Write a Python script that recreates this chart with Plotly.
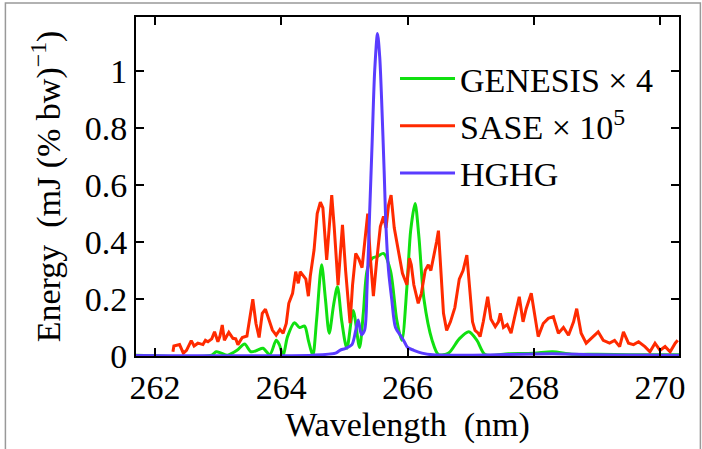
import plotly.graph_objects as go

# ---- data ----
sase_x = [262.285, 262.30, 262.39, 262.45, 262.50, 262.575, 262.62, 262.68, 262.76, 262.80,
          262.84, 262.90, 262.944, 262.997, 263.03, 263.066, 263.10, 263.17, 263.235, 263.28,
          263.314, 263.383, 263.457, 263.51, 263.55, 263.60, 263.65, 263.70, 263.75, 263.79,
          263.86, 263.92, 263.98, 264.03, 264.08, 264.12, 264.18, 264.23, 264.27, 264.30,
          264.35, 264.39, 264.43, 264.46, 264.52, 264.57, 264.62, 264.66, 264.72, 264.76,
          264.80, 264.84, 264.90, 264.97, 265.02, 265.09, 265.13, 265.18, 265.23, 265.28,
          265.33, 265.37, 265.41, 265.46, 265.51, 265.57, 265.62, 265.66, 265.70, 265.74,
          265.79, 265.86, 265.92, 265.99, 266.03, 266.06, 266.10, 266.17, 266.22, 266.28,
          266.33, 266.37, 266.41, 266.46, 266.49, 266.53, 266.57, 266.62, 266.68, 266.75,
          266.82, 266.88, 266.94, 266.98, 267.03, 267.07, 267.12, 267.15, 267.20, 267.27,
          267.32, 267.39, 267.44, 267.47, 267.52, 267.58, 267.64, 267.70, 267.77, 267.83,
          267.88, 267.96, 268.02, 268.07, 268.15, 268.23, 268.31, 268.39, 268.47, 268.55,
          268.63, 268.68, 268.75, 268.83, 268.91, 269.02, 269.10, 269.20, 269.28, 269.36,
          269.42, 269.50, 269.58, 269.66, 269.76, 269.84, 269.92, 270.00, 270.08, 270.16,
          270.24, 270.28]
sase_y = [0.015, 0.035, 0.04, 0.01, 0.02, 0.054, 0.035, 0.045, 0.04, 0.055,
          0.05, 0.06, 0.085, 0.05, 0.07, 0.109, 0.055, 0.083, 0.062, 0.06,
          0.04, 0.065, 0.07, 0.15, 0.199, 0.114, 0.065, 0.15, 0.164, 0.138,
          0.091, 0.073, 0.093, 0.08, 0.114, 0.185, 0.22, 0.296, 0.255, 0.296,
          0.28, 0.27, 0.21, 0.28, 0.372, 0.50, 0.54, 0.52, 0.337, 0.45,
          0.565, 0.45, 0.249, 0.46, 0.30, 0.115, 0.25, 0.36, 0.34, 0.31,
          0.42, 0.50, 0.35, 0.21, 0.33, 0.454, 0.49, 0.45, 0.53, 0.565,
          0.45, 0.36, 0.29, 0.25, 0.343, 0.32, 0.25, 0.185, 0.22, 0.30,
          0.32, 0.30, 0.34, 0.40, 0.44, 0.30, 0.15, 0.09, 0.12, 0.17,
          0.27, 0.30, 0.354, 0.25, 0.12, 0.09, 0.08, 0.068, 0.12, 0.208,
          0.13, 0.103, 0.12, 0.15, 0.10, 0.11, 0.08, 0.14, 0.208, 0.12,
          0.166, 0.22, 0.138, 0.068, 0.114, 0.132, 0.138, 0.08, 0.10, 0.073,
          0.12, 0.166, 0.08, 0.045, 0.062, 0.085, 0.055, 0.045, 0.055, 0.033,
          0.085, 0.045, 0.04, 0.05, 0.033, 0.015, 0.045, 0.02, 0.033, 0.015,
          0.045, 0.055]

genesis_x = [261.70, 262.90, 262.97, 263.05, 263.15, 263.30, 263.42, 263.52, 263.62, 263.71,
             263.82, 263.92, 263.97, 264.03, 264.10, 264.21, 264.29, 264.37, 264.43, 264.50,
             264.56, 264.64, 264.70, 264.76, 264.83, 264.89, 264.96, 265.04, 265.14, 265.24,
             265.30, 265.36, 265.44, 265.53, 265.62, 265.73, 265.83, 265.91, 265.99, 266.05,
             266.12, 266.18, 266.26, 266.39, 266.49, 266.65, 266.82, 266.97, 267.10, 267.23,
             267.60, 268.00, 268.30, 268.60, 269.00, 269.50, 270.30]
genesis_y = [0.003, 0.003, 0.015, 0.01, 0.003, 0.02, 0.042, 0.015, 0.02, 0.027,
             0.005, 0.055, 0.04, 0.002, 0.068, 0.117, 0.10, 0.105, 0.055, 0.002,
             0.126, 0.32, 0.20, 0.08, 0.18, 0.243, 0.12, 0.027, 0.16, 0.03,
             0.15, 0.30, 0.343, 0.35, 0.36, 0.30, 0.126, 0.055, 0.24, 0.44,
             0.535, 0.42, 0.20, 0.055, 0.005, 0.01, 0.06, 0.085, 0.055, 0.005,
             0.008, 0.01, 0.015, 0.006, 0.006, 0.004, 0.004]

hghg_x = [261.70, 264.50, 264.86, 264.93, 265.02, 265.12, 265.18, 265.22, 265.27, 265.32,
          265.36, 265.40, 265.44, 265.48, 265.525, 265.56, 265.59, 265.63, 265.66, 265.70,
          265.75, 265.81, 265.89, 265.95, 266.00, 266.10, 266.23, 266.40, 267.00, 268.30,
          269.00, 270.30]
hghg_y = [0.002, 0.003, 0.01, 0.02, 0.027, 0.04, 0.09, 0.126, 0.075, 0.09,
          0.243, 0.50, 0.75, 1.0, 1.132, 1.05, 0.90, 0.65, 0.45, 0.30,
          0.20, 0.10, 0.072, 0.05, 0.03, 0.02, 0.01, 0.004, 0.003, 0.008,
          0.004, 0.003]

x_ticks = [262, 264, 266, 268, 270]
y_ticks = [0, 0.2, 0.4, 0.6, 0.8, 1]
y_ticktext = ["0", "0.2", "0.4", "0.6", "0.8", "1"]

FONT = "Liberation Serif, Times New Roman, serif"
FS = 34

fig = go.Figure()
fig.add_trace(go.Scatter(x=genesis_x, y=genesis_y, mode="lines", name="GENESIS \u00d7 4",
                         line=dict(color="#10E010", width=3, shape="spline", smoothing=0.8)))
fig.add_trace(go.Scatter(x=sase_x, y=sase_y, mode="lines", name="SASE \u00d7 10<sup>5</sup>",
                         line=dict(color="#FF2A00", width=3)))
fig.add_trace(go.Scatter(x=hghg_x, y=hghg_y, mode="lines", name="HGHG",
                         line=dict(color="#5A3CFF", width=3, shape="spline", smoothing=0.8)))

fig.update_layout(
    template="none",
    width=702, height=449, autosize=False,
    margin=dict(l=136, r=23, t=17, b=93, autoexpand=False),
    paper_bgcolor="white", plot_bgcolor="white",
    font=dict(family=FONT, size=FS, color="black"),
    showlegend=True,
    legend=dict(x=0.477, y=0.903, xanchor="left", yanchor="top",
                bgcolor="rgba(0,0,0,0)", borderwidth=0, font=dict(size=FS, family=FONT),
                tracegroupgap=0, itemwidth=55),
    xaxis=dict(range=[261.7, 270.3], tickvals=x_ticks, ticks="inside", ticklen=8,
               tickwidth=1.5, tickcolor="black", showline=True, linecolor="black",
               linewidth=2, mirror="ticks", showgrid=False, zeroline=False, automargin=False,
               tickfont=dict(size=FS, family=FONT),
               title=dict(text="Wavelength\u00a0 (nm)", font=dict(size=FS, family=FONT), standoff=4)),
    yaxis=dict(range=[0, 1.19], tickvals=y_ticks, ticktext=y_ticktext, ticks="inside", ticklen=8,
               tickwidth=1.5, tickcolor="black", showline=True, linecolor="black",
               linewidth=2, mirror="ticks", showgrid=False, zeroline=False, automargin=False,
               tickfont=dict(size=FS, family=FONT),
               title=dict(text="Energy\u00a0 (mJ (% bw)<sup>\u22121</sup>)", font=dict(size=FS, family=FONT), standoff=14)),
    shapes=[dict(type="rect", xref="paper", yref="paper", x0=-0.2405, x1=1.0394, y0=-0.3, y1=1.0413,
                 line=dict(color="#999999", width=1.5), fillcolor="rgba(0,0,0,0)", layer="below")],
)

fig.write_html("out.html", config={"displayModeBar": False},
               post_script="document.body.style.margin='0';document.body.style.overflow='hidden';")
